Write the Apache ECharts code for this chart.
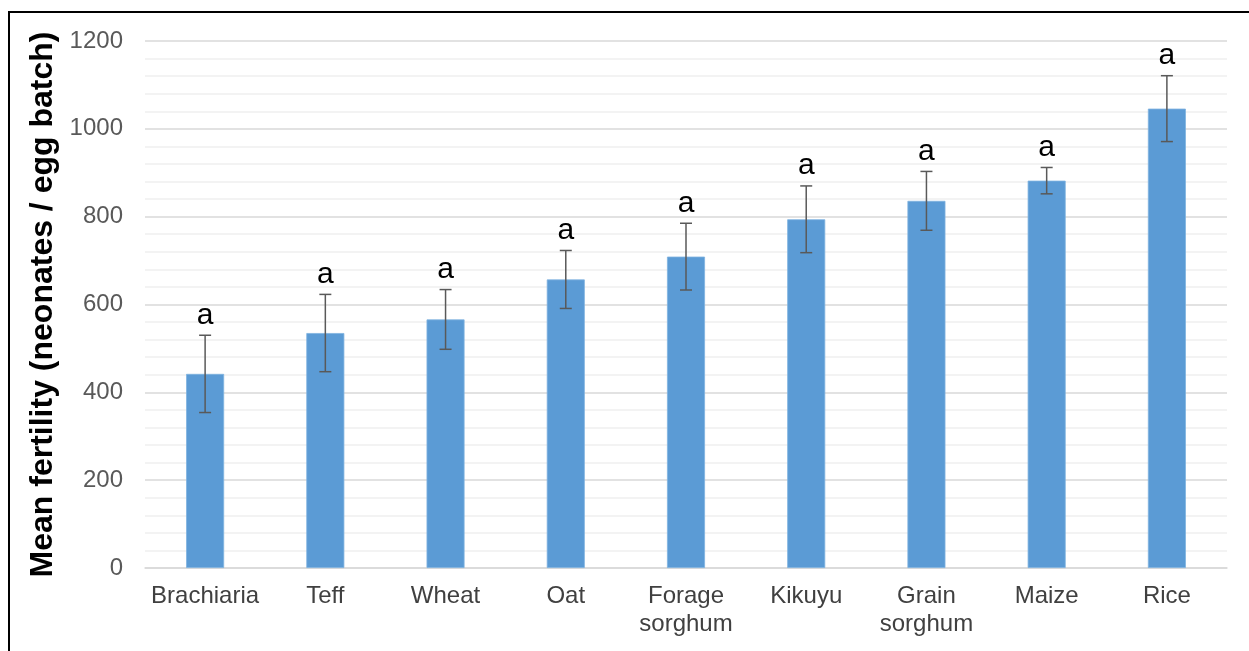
<!DOCTYPE html>
<html>
<head>
<meta charset="utf-8">
<script src="https://cdn.jsdelivr.net/npm/echarts@6/dist/echarts.min.js"></script>
<style>
  html, body { margin: 0; padding: 0; background: #ffffff; }
  #chart { width: 1249px; height: 651px; }
</style>
</head>
<body>
<div id="chart"></div>
<script>
// Host plants and mean fertility per egg batch
const categories = ['Brachiaria', 'Teff', 'Wheat', 'Oat', 'Forage\nsorghum', 'Kikuyu', 'Grain\nsorghum', 'Maize', 'Rice'];
const meanValues = [442, 535, 566, 657, 709, 794, 836, 882, 1046];
const errorValues = [88, 88, 68, 66, 76, 76, 67, 30, 75];
const groupLetters = ['a', 'a', 'a', 'a', 'a', 'a', 'a', 'a', 'a'];
const yTicks = [0, 200, 400, 600, 800, 1000, 1200];

const FONT = 'Liberation Sans, Arial, sans-serif';
const chart = echarts.init(document.getElementById('chart'), null, { renderer: 'canvas' });

const errorData = meanValues.map((v, i) => [i, v - errorValues[i], v + errorValues[i], groupLetters[i]]);

chart.setOption({
  animation: false,
  backgroundColor: '#ffffff',
  graphic: [{
    type: 'rect',
    shape: { x: 9, y: 12, width: 1400, height: 800 },
    style: { fill: 'none', stroke: '#000000', lineWidth: 2 },
    silent: true,
    z: 100
  }],
  grid: { left: 145, right: 22, top: 41, bottom: 83, containLabel: false },
  xAxis: {
    type: 'category',
    data: categories,
    axisLine: { show: true, lineStyle: { color: '#d9d9d9', width: 1.5 } },
    axisTick: { show: false },
    axisLabel: {
      color: '#404040',
      fontFamily: FONT,
      fontSize: 24,
      lineHeight: 28,
      margin: 14,
      interval: 0
    }
  },
  yAxis: {
    type: 'value',
    min: yTicks[0],
    max: yTicks[yTicks.length - 1],
    interval: 200,
    name: 'Mean fertility (neonates / egg batch)',
    nameLocation: 'middle',
    nameGap: 86,
    nameTextStyle: {
      color: '#000000',
      fontFamily: FONT,
      fontSize: 32,
      fontWeight: 'bold'
    },
    axisLine: { show: false },
    axisTick: { show: false },
    axisLabel: {
      color: '#595959',
      fontFamily: FONT,
      fontSize: 24,
      margin: 22,
      formatter: function (v) { return String(v); }
    },
    splitLine: { show: true, lineStyle: { color: '#d9d9d9', width: 1.5 } },
    minorTick: { show: false, splitNumber: 5 },
    minorSplitLine: { show: true, lineStyle: { color: '#efefef', width: 1.5 } }
  },
  series: [
    {
      type: 'bar',
      data: meanValues,
      barWidth: 38,
      itemStyle: { color: '#5b9bd5', borderColor: '#7fb2e0', borderWidth: 0.8 },
      z: 2
    },
    {
      type: 'custom',
      data: errorData,
      z: 3,
      renderItem: function (params, api) {
        const x = api.coord([api.value(0), api.value(1)])[0];
        const lo = api.coord([api.value(0), api.value(1)])[1];
        const hi = api.coord([api.value(0), api.value(2)])[1];
        const cap = 6;
        const stroke = { stroke: '#595959', lineWidth: 1.5 };
        return {
          type: 'group',
          children: [
            { type: 'line', shape: { x1: x, y1: hi, x2: x, y2: lo }, style: stroke },
            { type: 'line', shape: { x1: x - cap, y1: hi, x2: x + cap, y2: hi }, style: stroke },
            { type: 'line', shape: { x1: x - cap, y1: lo, x2: x + cap, y2: lo }, style: stroke },
            {
              type: 'text',
              style: {
                text: api.value(3),
                x: x,
                y: hi - 5,
                align: 'center',
                verticalAlign: 'bottom',
                fill: '#000000',
                font: '30px ' + FONT
              }
            }
          ]
        };
      }
    }
  ]
});
</script>
</body>
</html>
